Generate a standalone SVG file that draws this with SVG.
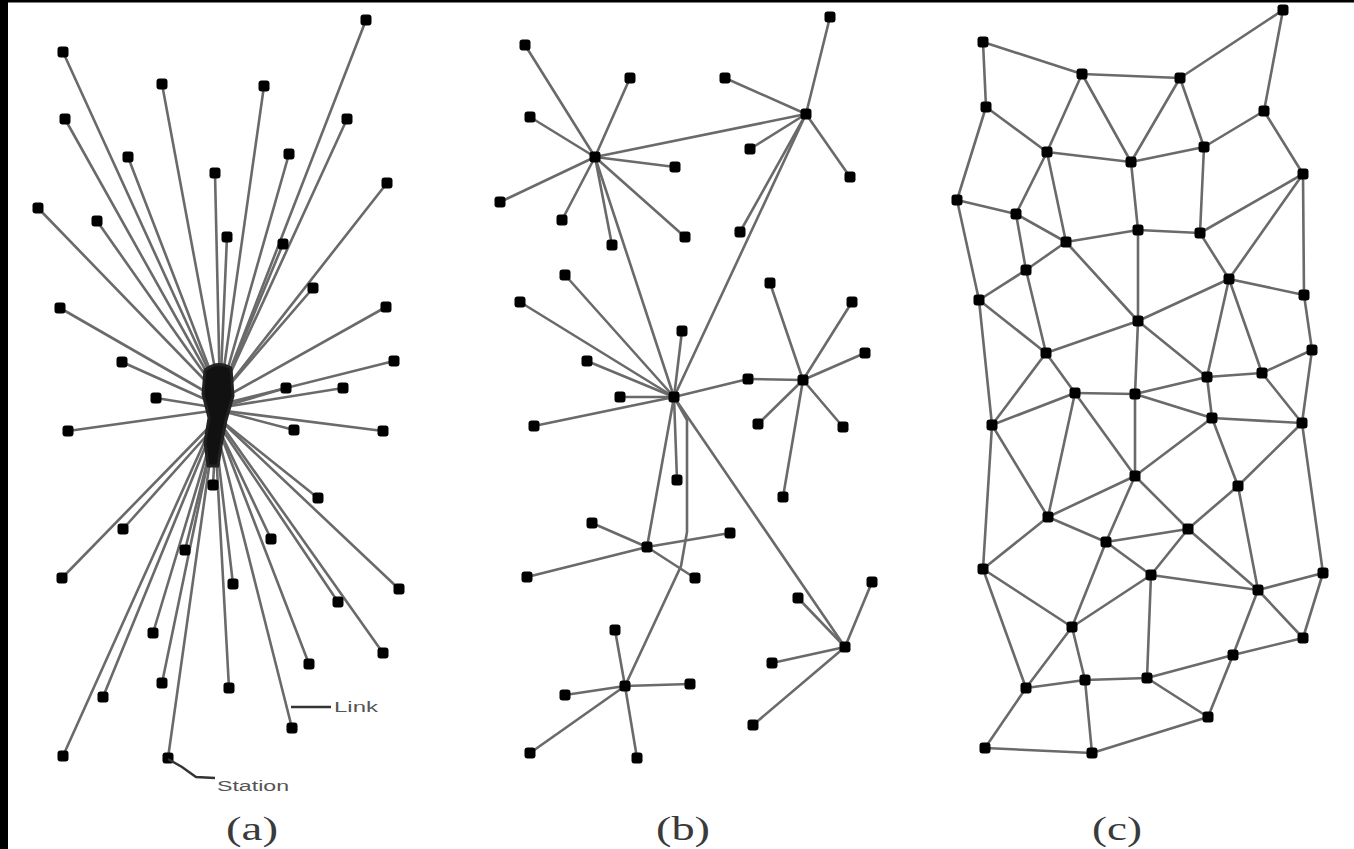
<svg xmlns="http://www.w3.org/2000/svg" width="1354" height="849" viewBox="0 0 1354 849">
<style>
.e{stroke:#6a6a6a;stroke-width:2.6;fill:none;stroke-linecap:round}
.n rect{fill:#0b0b0b}
.lbl{font-family:"Liberation Serif","Times New Roman",serif;font-size:33px;fill:#3a3a3a;text-anchor:middle}
.sm{font-family:"Liberation Sans",Arial,sans-serif;font-size:14px;fill:#555}
.ld{stroke:#333;stroke-width:2.4;fill:none}
</style>
<defs>
<rect id="dot" x="-5.5" y="-5.5" width="11" height="11" rx="3"/>
</defs>
<rect x="0" y="0" width="1354" height="849" fill="#fff"/>
<rect x="0" y="0" width="8" height="849" fill="#000"/>
<rect x="0" y="0" width="1354" height="2.5" fill="#000"/>

<g id="connectors">
<g id="conn-a">
<line class="e" x1="63" y1="52" x2="220" y2="396"/>
<line class="e" x1="366" y1="20" x2="220" y2="396"/>
<line class="e" x1="162" y1="84" x2="220" y2="396"/>
<line class="e" x1="264" y1="86" x2="220" y2="396"/>
<line class="e" x1="65" y1="119" x2="220" y2="396"/>
<line class="e" x1="347" y1="119" x2="220" y2="396"/>
<line class="e" x1="128" y1="157" x2="220" y2="396"/>
<line class="e" x1="289" y1="154" x2="220" y2="396"/>
<line class="e" x1="215" y1="173" x2="220" y2="396"/>
<line class="e" x1="387" y1="183" x2="220" y2="396"/>
<line class="e" x1="38" y1="208" x2="220" y2="396"/>
<line class="e" x1="97" y1="221" x2="220" y2="396"/>
<line class="e" x1="227" y1="237" x2="220" y2="396"/>
<line class="e" x1="283" y1="244" x2="220" y2="396"/>
<line class="e" x1="313" y1="288" x2="220" y2="396"/>
<line class="e" x1="60" y1="308" x2="220" y2="400"/>
<line class="e" x1="386" y1="307" x2="220" y2="400"/>
<line class="e" x1="122" y1="362" x2="218" y2="405"/>
<line class="e" x1="394" y1="361" x2="218" y2="405"/>
<line class="e" x1="286" y1="388" x2="218" y2="408"/>
<line class="e" x1="343" y1="388" x2="218" y2="408"/>
<line class="e" x1="156" y1="398" x2="218" y2="408"/>
<line class="e" x1="68" y1="431" x2="218" y2="410"/>
<line class="e" x1="294" y1="430" x2="218" y2="410"/>
<line class="e" x1="383" y1="431" x2="218" y2="410"/>
<line class="e" x1="213" y1="485" x2="216" y2="430"/>
<line class="e" x1="318" y1="498" x2="218" y2="418"/>
<line class="e" x1="123" y1="529" x2="216" y2="425"/>
<line class="e" x1="185" y1="550" x2="215" y2="430"/>
<line class="e" x1="271" y1="539" x2="217" y2="425"/>
<line class="e" x1="62" y1="578" x2="216" y2="420"/>
<line class="e" x1="233" y1="584" x2="215" y2="430"/>
<line class="e" x1="399" y1="589" x2="218" y2="418"/>
<line class="e" x1="338" y1="602" x2="217" y2="422"/>
<line class="e" x1="153" y1="633" x2="214" y2="430"/>
<line class="e" x1="383" y1="653" x2="218" y2="420"/>
<line class="e" x1="309" y1="664" x2="217" y2="425"/>
<line class="e" x1="162" y1="683" x2="214" y2="432"/>
<line class="e" x1="229" y1="688" x2="215" y2="432"/>
<line class="e" x1="103" y1="697" x2="213" y2="428"/>
<line class="e" x1="292" y1="728" x2="216" y2="428"/>
<line class="e" x1="63" y1="756" x2="212" y2="425"/>
<line class="e" x1="168" y1="758" x2="214" y2="432"/>
</g>
<g id="conn-b">
<line class="e" x1="595" y1="157" x2="525" y2="45"/>
<line class="e" x1="595" y1="157" x2="630" y2="78"/>
<line class="e" x1="595" y1="157" x2="530" y2="117"/>
<line class="e" x1="595" y1="157" x2="500" y2="202"/>
<line class="e" x1="595" y1="157" x2="562" y2="220"/>
<line class="e" x1="595" y1="157" x2="612" y2="245"/>
<line class="e" x1="595" y1="157" x2="675" y2="167"/>
<line class="e" x1="595" y1="157" x2="685" y2="237"/>
<line class="e" x1="595" y1="157" x2="806" y2="114"/>
<line class="e" x1="595" y1="157" x2="674" y2="397"/>
<line class="e" x1="806" y1="114" x2="830" y2="17"/>
<line class="e" x1="806" y1="114" x2="725" y2="78"/>
<line class="e" x1="806" y1="114" x2="750" y2="149"/>
<line class="e" x1="806" y1="114" x2="850" y2="177"/>
<line class="e" x1="806" y1="114" x2="740" y2="232"/>
<line class="e" x1="806" y1="114" x2="674" y2="397"/>
<line class="e" x1="674" y1="397" x2="565" y2="275"/>
<line class="e" x1="674" y1="397" x2="520" y2="302"/>
<line class="e" x1="674" y1="397" x2="587" y2="361"/>
<line class="e" x1="674" y1="397" x2="682" y2="331"/>
<line class="e" x1="674" y1="397" x2="620" y2="397"/>
<line class="e" x1="674" y1="397" x2="534" y2="426"/>
<line class="e" x1="674" y1="397" x2="677" y2="480"/>
<line class="e" x1="674" y1="397" x2="748" y2="379"/>
<line class="e" x1="748" y1="379" x2="803" y2="380"/>
<line class="e" x1="674" y1="397" x2="647" y2="547"/>
<line class="e" x1="674" y1="397" x2="845" y2="647"/>
<polyline class="e" points="674,397 687,420 687,532 681,566 625,686"/>
<line class="e" x1="803" y1="380" x2="770" y2="283"/>
<line class="e" x1="803" y1="380" x2="852" y2="302"/>
<line class="e" x1="803" y1="380" x2="865" y2="353"/>
<line class="e" x1="803" y1="380" x2="758" y2="424"/>
<line class="e" x1="803" y1="380" x2="843" y2="427"/>
<line class="e" x1="803" y1="380" x2="783" y2="497"/>
<line class="e" x1="647" y1="547" x2="592" y2="523"/>
<line class="e" x1="647" y1="547" x2="527" y2="577"/>
<line class="e" x1="647" y1="547" x2="730" y2="533"/>
<line class="e" x1="647" y1="547" x2="695" y2="578"/>
<line class="e" x1="845" y1="647" x2="798" y2="598"/>
<line class="e" x1="845" y1="647" x2="872" y2="582"/>
<line class="e" x1="845" y1="647" x2="772" y2="663"/>
<line class="e" x1="845" y1="647" x2="753" y2="725"/>
<line class="e" x1="625" y1="686" x2="615" y2="630"/>
<line class="e" x1="625" y1="686" x2="690" y2="684"/>
<line class="e" x1="625" y1="686" x2="565" y2="695"/>
<line class="e" x1="625" y1="686" x2="530" y2="753"/>
<line class="e" x1="625" y1="686" x2="637" y2="758"/>
</g>
<g id="conn-c">
<line class="e" x1="983" y1="42" x2="1082" y2="74"/>
<line class="e" x1="1082" y1="74" x2="1180" y2="78"/>
<line class="e" x1="1180" y1="78" x2="1283" y2="10"/>
<line class="e" x1="1283" y1="10" x2="1264" y2="111"/>
<line class="e" x1="983" y1="42" x2="986" y2="107"/>
<line class="e" x1="986" y1="107" x2="1047" y2="152"/>
<line class="e" x1="1082" y1="74" x2="1047" y2="152"/>
<line class="e" x1="1082" y1="74" x2="1131" y2="162"/>
<line class="e" x1="1180" y1="78" x2="1131" y2="162"/>
<line class="e" x1="1180" y1="78" x2="1204" y2="147"/>
<line class="e" x1="1264" y1="111" x2="1204" y2="147"/>
<line class="e" x1="1264" y1="111" x2="1303" y2="174"/>
<line class="e" x1="1047" y1="152" x2="1131" y2="162"/>
<line class="e" x1="1131" y1="162" x2="1204" y2="147"/>
<line class="e" x1="986" y1="107" x2="957" y2="200"/>
<line class="e" x1="1047" y1="152" x2="1016" y2="214"/>
<line class="e" x1="1047" y1="152" x2="1066" y2="242"/>
<line class="e" x1="1131" y1="162" x2="1138" y2="230"/>
<line class="e" x1="1204" y1="147" x2="1200" y2="233"/>
<line class="e" x1="1303" y1="174" x2="1200" y2="233"/>
<line class="e" x1="1303" y1="174" x2="1229" y2="279"/>
<line class="e" x1="1303" y1="174" x2="1304" y2="295"/>
<line class="e" x1="957" y1="200" x2="1016" y2="214"/>
<line class="e" x1="1016" y1="214" x2="1066" y2="242"/>
<line class="e" x1="1066" y1="242" x2="1138" y2="230"/>
<line class="e" x1="1138" y1="230" x2="1200" y2="233"/>
<line class="e" x1="957" y1="200" x2="979" y2="300"/>
<line class="e" x1="1016" y1="214" x2="1026" y2="270"/>
<line class="e" x1="1066" y1="242" x2="1026" y2="270"/>
<line class="e" x1="1066" y1="242" x2="1138" y2="321"/>
<line class="e" x1="1138" y1="230" x2="1138" y2="321"/>
<line class="e" x1="1200" y1="233" x2="1229" y2="279"/>
<line class="e" x1="1229" y1="279" x2="1304" y2="295"/>
<line class="e" x1="1229" y1="279" x2="1138" y2="321"/>
<line class="e" x1="1229" y1="279" x2="1207" y2="377"/>
<line class="e" x1="1229" y1="279" x2="1262" y2="373"/>
<line class="e" x1="1026" y1="270" x2="979" y2="300"/>
<line class="e" x1="1026" y1="270" x2="1046" y2="353"/>
<line class="e" x1="979" y1="300" x2="1046" y2="353"/>
<line class="e" x1="979" y1="300" x2="992" y2="425"/>
<line class="e" x1="1138" y1="321" x2="1046" y2="353"/>
<line class="e" x1="1138" y1="321" x2="1135" y2="394"/>
<line class="e" x1="1138" y1="321" x2="1207" y2="377"/>
<line class="e" x1="1304" y1="295" x2="1312" y2="350"/>
<line class="e" x1="1312" y1="350" x2="1262" y2="373"/>
<line class="e" x1="1262" y1="373" x2="1207" y2="377"/>
<line class="e" x1="1207" y1="377" x2="1135" y2="394"/>
<line class="e" x1="1207" y1="377" x2="1212" y2="418"/>
<line class="e" x1="1212" y1="418" x2="1302" y2="423"/>
<line class="e" x1="1262" y1="373" x2="1302" y2="423"/>
<line class="e" x1="1312" y1="350" x2="1302" y2="423"/>
<line class="e" x1="1046" y1="353" x2="1075" y2="393"/>
<line class="e" x1="1046" y1="353" x2="992" y2="425"/>
<line class="e" x1="1075" y1="393" x2="1135" y2="394"/>
<line class="e" x1="1075" y1="393" x2="992" y2="425"/>
<line class="e" x1="1075" y1="393" x2="1048" y2="517"/>
<line class="e" x1="1075" y1="393" x2="1135" y2="476"/>
<line class="e" x1="1135" y1="394" x2="1135" y2="476"/>
<line class="e" x1="1135" y1="394" x2="1212" y2="418"/>
<line class="e" x1="1212" y1="418" x2="1135" y2="476"/>
<line class="e" x1="1212" y1="418" x2="1238" y2="486"/>
<line class="e" x1="1302" y1="423" x2="1238" y2="486"/>
<line class="e" x1="1302" y1="423" x2="1323" y2="573"/>
<line class="e" x1="992" y1="425" x2="1048" y2="517"/>
<line class="e" x1="992" y1="425" x2="983" y2="569"/>
<line class="e" x1="1135" y1="476" x2="1048" y2="517"/>
<line class="e" x1="1135" y1="476" x2="1106" y2="542"/>
<line class="e" x1="1135" y1="476" x2="1188" y2="529"/>
<line class="e" x1="1238" y1="486" x2="1188" y2="529"/>
<line class="e" x1="1238" y1="486" x2="1258" y2="590"/>
<line class="e" x1="1048" y1="517" x2="1106" y2="542"/>
<line class="e" x1="1048" y1="517" x2="983" y2="569"/>
<line class="e" x1="1106" y1="542" x2="1188" y2="529"/>
<line class="e" x1="1106" y1="542" x2="1151" y2="575"/>
<line class="e" x1="1106" y1="542" x2="1072" y2="627"/>
<line class="e" x1="1188" y1="529" x2="1151" y2="575"/>
<line class="e" x1="1188" y1="529" x2="1258" y2="590"/>
<line class="e" x1="1151" y1="575" x2="1258" y2="590"/>
<line class="e" x1="1151" y1="575" x2="1072" y2="627"/>
<line class="e" x1="1151" y1="575" x2="1147" y2="678"/>
<line class="e" x1="1323" y1="573" x2="1258" y2="590"/>
<line class="e" x1="1323" y1="573" x2="1303" y2="638"/>
<line class="e" x1="1258" y1="590" x2="1303" y2="638"/>
<line class="e" x1="1258" y1="590" x2="1233" y2="655"/>
<line class="e" x1="1303" y1="638" x2="1233" y2="655"/>
<line class="e" x1="1233" y1="655" x2="1147" y2="678"/>
<line class="e" x1="1233" y1="655" x2="1208" y2="717"/>
<line class="e" x1="1147" y1="678" x2="1208" y2="717"/>
<line class="e" x1="1147" y1="678" x2="1085" y2="680"/>
<line class="e" x1="1072" y1="627" x2="1085" y2="680"/>
<line class="e" x1="1072" y1="627" x2="1026" y2="688"/>
<line class="e" x1="983" y1="569" x2="1072" y2="627"/>
<line class="e" x1="983" y1="569" x2="1026" y2="688"/>
<line class="e" x1="1026" y1="688" x2="1085" y2="680"/>
<line class="e" x1="1026" y1="688" x2="985" y2="748"/>
<line class="e" x1="985" y1="748" x2="1092" y2="753"/>
<line class="e" x1="1085" y1="680" x2="1092" y2="753"/>
<line class="e" x1="1092" y1="753" x2="1208" y2="717"/>
</g>
</g>

<g id="nodes-a" class="n">
<g id="a-hub"><path d="M205,370 Q218,360 231,368 L233,396 L226,420 L221,446 L218,466 L208,466 L205,442 L209,418 L203,394 Z" fill="#111" stroke="#222" stroke-width="3" stroke-linejoin="round"/></g>
<g id="a1"><use href="#dot" x="63" y="52"/></g>
<g id="a2"><use href="#dot" x="366" y="20"/></g>
<g id="a3"><use href="#dot" x="162" y="84"/></g>
<g id="a4"><use href="#dot" x="264" y="86"/></g>
<g id="a5"><use href="#dot" x="65" y="119"/></g>
<g id="a6"><use href="#dot" x="347" y="119"/></g>
<g id="a7"><use href="#dot" x="128" y="157"/></g>
<g id="a8"><use href="#dot" x="289" y="154"/></g>
<g id="a9"><use href="#dot" x="215" y="173"/></g>
<g id="a10"><use href="#dot" x="387" y="183"/></g>
<g id="a11"><use href="#dot" x="38" y="208"/></g>
<g id="a12"><use href="#dot" x="97" y="221"/></g>
<g id="a13"><use href="#dot" x="227" y="237"/></g>
<g id="a14"><use href="#dot" x="283" y="244"/></g>
<g id="a15"><use href="#dot" x="313" y="288"/></g>
<g id="a16"><use href="#dot" x="60" y="308"/></g>
<g id="a17"><use href="#dot" x="386" y="307"/></g>
<g id="a18"><use href="#dot" x="122" y="362"/></g>
<g id="a19"><use href="#dot" x="394" y="361"/></g>
<g id="a20"><use href="#dot" x="286" y="388"/></g>
<g id="a21"><use href="#dot" x="343" y="388"/></g>
<g id="a22"><use href="#dot" x="156" y="398"/></g>
<g id="a23"><use href="#dot" x="68" y="431"/></g>
<g id="a24"><use href="#dot" x="294" y="430"/></g>
<g id="a25"><use href="#dot" x="383" y="431"/></g>
<g id="a26"><use href="#dot" x="213" y="485"/></g>
<g id="a27"><use href="#dot" x="318" y="498"/></g>
<g id="a28"><use href="#dot" x="123" y="529"/></g>
<g id="a29"><use href="#dot" x="185" y="550"/></g>
<g id="a30"><use href="#dot" x="271" y="539"/></g>
<g id="a31"><use href="#dot" x="62" y="578"/></g>
<g id="a32"><use href="#dot" x="233" y="584"/></g>
<g id="a33"><use href="#dot" x="399" y="589"/></g>
<g id="a34"><use href="#dot" x="338" y="602"/></g>
<g id="a35"><use href="#dot" x="153" y="633"/></g>
<g id="a36"><use href="#dot" x="383" y="653"/></g>
<g id="a37"><use href="#dot" x="309" y="664"/></g>
<g id="a38"><use href="#dot" x="162" y="683"/></g>
<g id="a39"><use href="#dot" x="229" y="688"/></g>
<g id="a40"><use href="#dot" x="103" y="697"/></g>
<g id="a41"><use href="#dot" x="292" y="728"/></g>
<g id="a42"><use href="#dot" x="63" y="756"/></g>
<g id="a43"><use href="#dot" x="168" y="758"/></g>
</g>

<g id="nodes-b" class="n">
<g id="b-hub1"><use href="#dot" x="595" y="157"/></g>
<g id="b-hub2"><use href="#dot" x="806" y="114"/></g>
<g id="b-hub3"><use href="#dot" x="674" y="397"/></g>
<g id="b-hub4"><use href="#dot" x="803" y="380"/></g>
<g id="b-hub5"><use href="#dot" x="647" y="547"/></g>
<g id="b-hub6"><use href="#dot" x="845" y="647"/></g>
<g id="b-hub7"><use href="#dot" x="625" y="686"/></g>
<g id="b1"><use href="#dot" x="525" y="45"/></g>
<g id="b2"><use href="#dot" x="630" y="78"/></g>
<g id="b3"><use href="#dot" x="530" y="117"/></g>
<g id="b4"><use href="#dot" x="500" y="202"/></g>
<g id="b5"><use href="#dot" x="562" y="220"/></g>
<g id="b6"><use href="#dot" x="612" y="245"/></g>
<g id="b7"><use href="#dot" x="675" y="167"/></g>
<g id="b8"><use href="#dot" x="685" y="237"/></g>
<g id="b9"><use href="#dot" x="830" y="17"/></g>
<g id="b10"><use href="#dot" x="725" y="78"/></g>
<g id="b11"><use href="#dot" x="750" y="149"/></g>
<g id="b12"><use href="#dot" x="850" y="177"/></g>
<g id="b13"><use href="#dot" x="740" y="232"/></g>
<g id="b14"><use href="#dot" x="565" y="275"/></g>
<g id="b15"><use href="#dot" x="520" y="302"/></g>
<g id="b16"><use href="#dot" x="587" y="361"/></g>
<g id="b17"><use href="#dot" x="682" y="331"/></g>
<g id="b18"><use href="#dot" x="620" y="397"/></g>
<g id="b19"><use href="#dot" x="534" y="426"/></g>
<g id="b20"><use href="#dot" x="677" y="480"/></g>
<g id="b21"><use href="#dot" x="748" y="379"/></g>
<g id="b22"><use href="#dot" x="770" y="283"/></g>
<g id="b23"><use href="#dot" x="852" y="302"/></g>
<g id="b24"><use href="#dot" x="865" y="353"/></g>
<g id="b25"><use href="#dot" x="758" y="424"/></g>
<g id="b26"><use href="#dot" x="843" y="427"/></g>
<g id="b27"><use href="#dot" x="783" y="497"/></g>
<g id="b28"><use href="#dot" x="592" y="523"/></g>
<g id="b29"><use href="#dot" x="527" y="577"/></g>
<g id="b30"><use href="#dot" x="730" y="533"/></g>
<g id="b31"><use href="#dot" x="695" y="578"/></g>
<g id="b32"><use href="#dot" x="798" y="598"/></g>
<g id="b33"><use href="#dot" x="872" y="582"/></g>
<g id="b34"><use href="#dot" x="772" y="663"/></g>
<g id="b35"><use href="#dot" x="753" y="725"/></g>
<g id="b36"><use href="#dot" x="615" y="630"/></g>
<g id="b37"><use href="#dot" x="690" y="684"/></g>
<g id="b38"><use href="#dot" x="565" y="695"/></g>
<g id="b39"><use href="#dot" x="530" y="753"/></g>
<g id="b40"><use href="#dot" x="637" y="758"/></g>
</g>

<g id="nodes-c" class="n">
<g id="c1"><use href="#dot" x="983" y="42"/></g>
<g id="c2"><use href="#dot" x="1283" y="10"/></g>
<g id="c3"><use href="#dot" x="1082" y="74"/></g>
<g id="c4"><use href="#dot" x="1180" y="78"/></g>
<g id="c5"><use href="#dot" x="986" y="107"/></g>
<g id="c6"><use href="#dot" x="1264" y="111"/></g>
<g id="c7"><use href="#dot" x="1047" y="152"/></g>
<g id="c8"><use href="#dot" x="1131" y="162"/></g>
<g id="c9"><use href="#dot" x="1204" y="147"/></g>
<g id="c10"><use href="#dot" x="1303" y="174"/></g>
<g id="c11"><use href="#dot" x="957" y="200"/></g>
<g id="c12"><use href="#dot" x="1016" y="214"/></g>
<g id="c13"><use href="#dot" x="1138" y="230"/></g>
<g id="c14"><use href="#dot" x="1200" y="233"/></g>
<g id="c15"><use href="#dot" x="1066" y="242"/></g>
<g id="c16"><use href="#dot" x="1026" y="270"/></g>
<g id="c17"><use href="#dot" x="1229" y="279"/></g>
<g id="c18"><use href="#dot" x="979" y="300"/></g>
<g id="c19"><use href="#dot" x="1304" y="295"/></g>
<g id="c20"><use href="#dot" x="1138" y="321"/></g>
<g id="c21"><use href="#dot" x="1046" y="353"/></g>
<g id="c22"><use href="#dot" x="1312" y="350"/></g>
<g id="c23"><use href="#dot" x="1207" y="377"/></g>
<g id="c24"><use href="#dot" x="1262" y="373"/></g>
<g id="c25"><use href="#dot" x="1075" y="393"/></g>
<g id="c26"><use href="#dot" x="1135" y="394"/></g>
<g id="c27"><use href="#dot" x="992" y="425"/></g>
<g id="c28"><use href="#dot" x="1212" y="418"/></g>
<g id="c29"><use href="#dot" x="1302" y="423"/></g>
<g id="c30"><use href="#dot" x="1135" y="476"/></g>
<g id="c31"><use href="#dot" x="1238" y="486"/></g>
<g id="c32"><use href="#dot" x="1048" y="517"/></g>
<g id="c33"><use href="#dot" x="1188" y="529"/></g>
<g id="c34"><use href="#dot" x="1106" y="542"/></g>
<g id="c35"><use href="#dot" x="983" y="569"/></g>
<g id="c36"><use href="#dot" x="1151" y="575"/></g>
<g id="c37"><use href="#dot" x="1323" y="573"/></g>
<g id="c38"><use href="#dot" x="1258" y="590"/></g>
<g id="c39"><use href="#dot" x="1072" y="627"/></g>
<g id="c40"><use href="#dot" x="1303" y="638"/></g>
<g id="c41"><use href="#dot" x="1233" y="655"/></g>
<g id="c42"><use href="#dot" x="1026" y="688"/></g>
<g id="c43"><use href="#dot" x="1085" y="680"/></g>
<g id="c44"><use href="#dot" x="1147" y="678"/></g>
<g id="c45"><use href="#dot" x="1208" y="717"/></g>
<g id="c46"><use href="#dot" x="985" y="748"/></g>
<g id="c47"><use href="#dot" x="1092" y="753"/></g>
</g>

<g id="labels">
<line class="ld" x1="291" y1="707" x2="331" y2="707"/>
<text class="sm" x="334" y="712" textLength="44" lengthAdjust="spacingAndGlyphs">Link</text>
<polyline class="ld" points="168,759 182,767 196,777 215,778"/>
<text class="sm" x="217" y="791" textLength="72" lengthAdjust="spacingAndGlyphs">Station</text>
<text class="lbl" x="252" y="840" textLength="52" lengthAdjust="spacingAndGlyphs">(a)</text>
<text class="lbl" x="683" y="840" textLength="54" lengthAdjust="spacingAndGlyphs">(b)</text>
<text class="lbl" x="1117" y="840" textLength="50" lengthAdjust="spacingAndGlyphs">(c)</text>
</g>
</svg>
